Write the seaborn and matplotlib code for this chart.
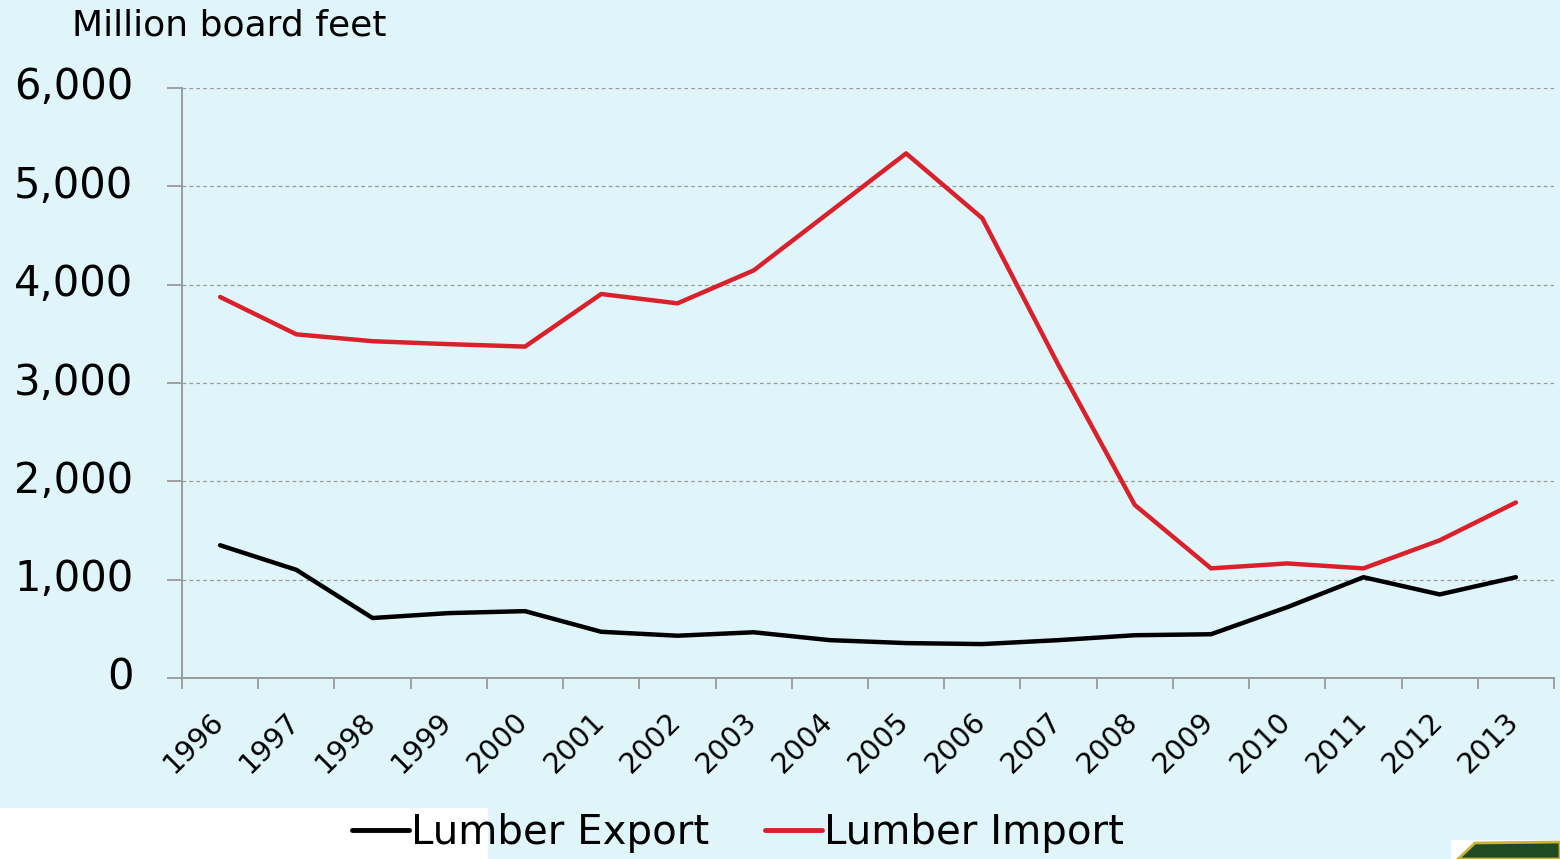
import numpy as np
import pandas as pd
import matplotlib
matplotlib.use("Agg")
import matplotlib.pyplot as plt
import matplotlib.transforms as mtransforms
from matplotlib.patches import Rectangle, Polygon
from matplotlib.ticker import FuncFormatter, FixedLocator
import seaborn as sns

years = [str(y) for y in range(1996, 2014)]
lumber_export = [1350, 1100, 610, 660, 680, 470, 430, 465, 385, 355, 345, 385, 435, 445, 720, 1025, 850, 1025]
lumber_import = [3875, 3495, 3425, 3395, 3370, 3905, 3810, 4145, 4740, 5335, 4675, 3180, 1760, 1115, 1165, 1115, 1400, 1785]
series_names = ["Lumber Export", "Lumber Import"]
series_colors = ["#000000", "#d9202b"]

bg = "#dff5fa"
grid_col = "#9a9a9a"

df = pd.DataFrame({
    "year": years * 2,
    "pos": list(range(len(years))) * 2,
    "value": lumber_export + lumber_import,
    "series": [series_names[0]] * len(years) + [series_names[1]] * len(years),
})

sns.set_style("white")
plt.rcParams['font.family'] = ['DejaVu Sans']
plt.rcParams['text.color'] = 'black'

fig = plt.figure(figsize=(15.6, 8.59), dpi=100, facecolor=bg)
ax = fig.add_axes([182 / 1560, 1 - 678 / 859, (1554 - 182) / 1560, (678 - 88) / 859])
ax.set_facecolor(bg)

# white patch bottom-left behind legend
fig.patches.append(Rectangle((0, 0), 488 / 1560, 51 / 859, transform=fig.transFigure,
                             facecolor="white", edgecolor="none", zorder=0))
# logo corner
fig.patches.append(Rectangle((1451 / 1560, 0), 109 / 1560, 19 / 859, transform=fig.transFigure,
                             facecolor="white", edgecolor="none", zorder=0))
fig.patches.append(Polygon([(1458 / 1560, 0), (1475 / 1560, 16 / 859), (1560 / 1560, 17 / 859), (1560 / 1560, 0)],
                           closed=True, transform=fig.transFigure, facecolor="#1f4a22",
                           edgecolor="#c9b43a", linewidth=2, zorder=1))

sns.lineplot(data=df, x="pos", y="value", hue="series", palette=series_colors,
             linewidth=3.2, ax=ax, legend=False, solid_capstyle="round", solid_joinstyle="round")

ax.set_xlim(-0.5, len(years) - 0.5)
ax.set_ylim(0, 6000)
ax.set_xlabel("")
ax.set_ylabel("")

ax.set_yticks(range(0, 6001, 1000))
ax.yaxis.set_major_formatter(FuncFormatter(lambda v, p: f"{int(v):,}"))
ax.yaxis.grid(True, linestyle=(0, (3, 2.5)), color=grid_col, linewidth=0.9)
ax.set_axisbelow(True)

ax.xaxis.set_major_locator(FixedLocator(np.arange(-0.5, len(years), 1.0)))
ax.xaxis.set_minor_locator(FixedLocator(np.arange(len(years))))
ax.set_xticklabels([], minor=False)
ax.set_xticklabels(years, minor=True, rotation=45, ha="right", rotation_mode="anchor", fontsize=20.5)
ax.tick_params(axis="x", which="major", bottom=True, length=8, width=1.3, color=grid_col, direction="out")
ax.tick_params(axis="x", which="minor", bottom=True, length=0, pad=24, labelcolor="black")
ax.tick_params(axis="y", left=True, length=11, width=1.3, color=grid_col, labelsize=30, pad=24,
               labelcolor="black")

# nudge labels like the original layout
xshift = mtransforms.ScaledTranslation(-0.11, 0.04, fig.dpi_scale_trans)
for lab in ax.xaxis.get_minorticklabels():
    lab.set_transform(lab.get_transform() + xshift)
yshift = mtransforms.ScaledTranslation(0, 0.05, fig.dpi_scale_trans)
for lab in ax.yaxis.get_majorticklabels():
    lab.set_transform(lab.get_transform() + yshift)

for side in ["top", "right"]:
    ax.spines[side].set_visible(False)
for side in ["left", "bottom"]:
    ax.spines[side].set_color(grid_col)
    ax.spines[side].set_linewidth(1.4)

fig.text(72 / 1560, 1 - 25 / 859, "Million board feet", fontsize=26, va="center", ha="left")

handles = [plt.Line2D([], [], color=c, linewidth=3.5) for c in series_colors]
fig.legend(handles, series_names, loc="center", bbox_to_anchor=(738 / 1560, 1 - 833 / 859),
           ncol=2, frameon=False, fontsize=29, handlelength=1.4, handletextpad=0.05,
           columnspacing=1.4)

fig.savefig("out.png", dpi=100, facecolor=bg)
